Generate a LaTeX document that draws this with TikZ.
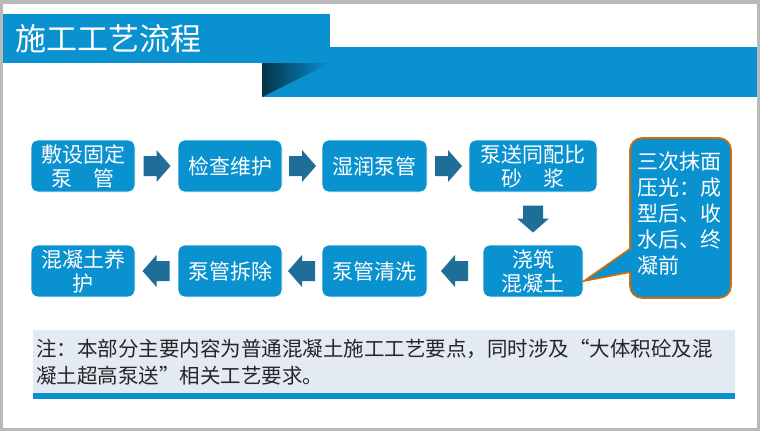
\documentclass[tikz,border=0pt]{standalone}
\usepackage{fontspec}
\setmainfont{Noto Sans CJK SC}
\usetikzlibrary{calc}
\definecolor{bl}{HTML}{0A91D0}
\definecolor{ar}{HTML}{1F6E99}
\definecolor{nb}{HTML}{E3EAF4}
\begin{document}
\begin{tikzpicture}[x=1pt,y=-1pt,
 box/.style={draw=white,line width=0.8pt,fill=bl,rounded corners=7pt,text=white,font=\fontsize{21}{24}\selectfont,align=center,inner sep=0pt,minimum height=52pt},
 ar/.style={fill=ar,draw=none}]
\useasboundingbox (0,0) rectangle (760,431);
\fill[gray!55] (0,0) rectangle (760,431);
\fill[white] (3,4) rectangle (757,428);
% title
\fill[bl] (262,47) rectangle (757,97);
\shade[left color=black!65!bl,right color=bl] (262,63) -- (330,63) -- (262,97) -- cycle;
\fill[bl] (3,14) rectangle (330,63);
\node[anchor=west,text=white,font=\fontsize{31}{34}\selectfont] (t) at (12,39) {施工工艺流程};
% boxes
\node[box,minimum width=104pt] (b1) at (83,166) {敷设固定\\泵\quad 管};
\node[box,minimum width=104pt] (b2) at (230,166) {检查维护};
\node[box,minimum width=105pt] (b3) at (374.5,166) {湿润泵管};
\node[box,minimum width=128pt] (b4) at (533,166) {泵送同配比\\砂\quad 浆};
\node[box,minimum width=100pt] (b5) at (533,271) {浇筑\\混凝土};
\node[box,minimum width=105pt] (b6) at (374.5,271) {泵管清洗};
\node[box,minimum width=104pt] (b7) at (230,271) {泵管拆除};
\node[box,minimum width=104pt] (b8) at (83,271) {混凝土养\\护};
% arrows
\foreach \n/\a/\b in {a1/b1/b2,a2/b2/b3,a3/b3/b4}{
 \coordinate (\n) at ($(\a.east)!0.5!(\b.west)$);
 \fill[ar] ($(\n)+(-13,-10)$) -- ++(13,0) -- ++(0,-6) -- ++(14,16) -- ++(-14,16) -- ++(0,-6) -- ++(-13,0) -- cycle;}
\foreach \n/\a/\b in {a5/b6/b5,a6/b7/b6,a7/b8/b7}{
 \coordinate (\n) at ($(\a.east)!0.5!(\b.west)$);
 \fill[ar] ($(\n)+(13,-10)$) -- ++(-13,0) -- ++(0,-6) -- ++(-14,16) -- ++(14,16) -- ++(0,-6) -- ++(13,0) -- cycle;}
\coordinate (a4) at ($(b4.south)!0.5!(b5.north)$);
\fill[ar] ($(a4)+(-10,-13)$) -- ++(0,13) -- ++(-6,0) -- ++(16,14) -- ++(16,-14) -- ++(-6,0) -- ++(0,-13) -- cycle;
% callout
\draw[fill=bl,draw=orange!85!black,line width=1.6pt,rounded corners=12pt] (630,138) rectangle (731,298);
\fill[bl] (632,248) -- (584,281) -- (632,272) -- cycle;
\draw[orange!85!black,line width=1.6pt] (631,248) -- (584,281) -- (631,272);
\node[anchor=north west,text=white,font=\fontsize{21}{26}\selectfont,align=left,inner sep=0pt] (c) at (637,152) {三次抹面\\压光：成\\型后、收\\水后、终\\凝前};
% note
\fill[nb] (33,330) rectangle (735,393);
\fill[bl] (33,393) rectangle (735,399);
\node[anchor=west,font=\fontsize{20.5}{27}\selectfont,align=left,inner sep=0pt,text=black!85] (n) at (36,362) {注：本部分主要内容为普通混凝土施工工艺要点，同时涉及“大体积砼及混\\凝土超高泵送”相关工艺要求。};
\end{tikzpicture}
\end{document}
